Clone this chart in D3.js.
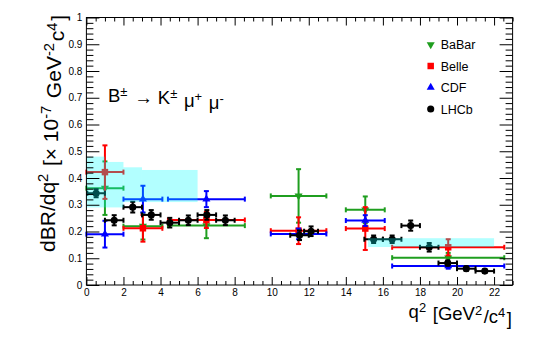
<!DOCTYPE html>
<html lang="en">
<head>
<meta charset="UTF-8">
<title>B to K mu mu differential branching fraction</title>
<style>
  body { margin: 0; background: #fff; }
  svg { display: block; font-family: 'Liberation Sans', Arial, sans-serif; }
  .tick text { font-size: 10px; fill: #000; }
</style>
<script src="https://d3js.org/d3.v7.min.js"></script>
</head>
<body>
<svg id="chart" width="540" height="339"></svg>
<script>
// common binning used for BaBar / Belle / CDF points
var binLo = [0, 2, 4.4, 9.95, 14, 16.5];
var binHi = [2, 4.1, 8.55, 12.95, 16.1, 22.55];

var babarVal = [0.362, 0.220, 0.222, 0.333, 0.281, 0.102];
var babarErr = [0.10, 0.05, 0.047, 0.10, 0.05, 0.018];

var belleVal = [0.422, 0.212, 0.243, 0.203, 0.211, 0.141];
var belleErr = [0.10, 0.05, 0.03, 0.05, 0.08, 0.03];

var cdfVal = [0.190, 0.321, 0.321, 0.191, 0.241, 0.071];
var cdfErr = [0.05, 0.05, 0.03, 0.02, 0.02, 0.01];

// LHCb bins
var lhcbLo = [0.05, 1, 2, 3, 4, 5, 6, 7, 11, 11.75, 15, 16, 17, 18, 19, 20, 21];
var lhcbHi = [1, 2, 3, 4, 5, 6, 7, 8, 12, 12.5, 16, 17, 18, 19, 20, 21, 22];
var lhcbVal = [0.343, 0.242, 0.291, 0.262, 0.233, 0.242, 0.262, 0.242, 0.186, 0.201,
               0.171, 0.171, 0.222, 0.141, 0.082, 0.061, 0.052];
var lhcbErr = [0.015, 0.019, 0.02, 0.018, 0.018, 0.018, 0.018, 0.018, 0.018, 0.018,
               0.014, 0.014, 0.019, 0.016, 0.01, 0.008, 0.007];

// SM prediction band
var bandLo = [0, 1, 2, 3, 15.2];
var bandHi = [1, 2, 3, 6, 22];
var bandMin = [0.29, 0.29, 0.31, 0.31, 0.142];
var bandMax = [0.48, 0.46, 0.44, 0.43, 0.175];

var legendNames = ['BaBar', 'Belle', 'CDF', 'LHCb'];

var svg = d3.select('#chart');
var x = d3.scaleLinear().domain([0, 23]).range([86.4, 512.6]);
var y = d3.scaleLinear().domain([0, 1]).range([285, 17.5]);

var green = '#1f9e1f', red = '#ff0000', blue = '#0000ff', black = '#000000';

function drawSeries(lo, hi, val, err, color, symbol, rot, size) {
    var g = svg.append('g');
    var cap = 2.5;
    val.forEach(function (v, i) {
        var cx = x((lo[i] + hi[i]) / 2), cy = y(v);
        var x0 = x(lo[i]), x1 = x(hi[i]);
        var y0 = y(v - err[i]), y1 = y(v + err[i]);
        var segs = [
            [x0, cy, x1, cy], [x0, cy - cap, x0, cy + cap], [x1, cy - cap, x1, cy + cap],
            [cx, y0, cx, y1], [cx - cap, y0, cx + cap, y0], [cx - cap, y1, cx + cap, y1]
        ];
        segs.forEach(function (s) {
            g.append('line')
                .attr('x1', s[0]).attr('y1', s[1]).attr('x2', s[2]).attr('y2', s[3])
                .attr('stroke', color).attr('stroke-width', 2);
        });
        g.append('path')
            .attr('d', d3.symbol().type(symbol).size(size)())
            .attr('transform', 'translate(' + cx + ',' + cy + ') rotate(' + rot + ')')
            .attr('fill', color);
    });
}

drawSeries(binLo, binHi, babarVal, babarErr, green, d3.symbolTriangle, 180, 28);
drawSeries(binLo, binHi, belleVal, belleErr, red, d3.symbolSquare, 0, 42);
drawSeries(binLo, binHi, cdfVal, cdfErr, blue, d3.symbolTriangle, 0, 28);
drawSeries(lhcbLo, lhcbHi, lhcbVal, lhcbErr, black, d3.symbolCircle, 0, 40);

// theory band drawn on top, semi transparent
svg.append('g').selectAll('rect')
    .data(bandLo)
    .enter()
    .append('rect')
    .attr('x', function (d, i) { return x(d); })
    .attr('width', function (d, i) { return x(bandHi[i]) - x(d); })
    .attr('y', function (d, i) { return y(bandMax[i]); })
    .attr('height', function (d, i) { return y(bandMin[i]) - y(bandMax[i]); })
    .attr('fill', '#00ffff')
    .attr('fill-opacity', 0.3);

// axes (ticks pointing inwards, ROOT style)
function axis(gen, tx, ty) {
    var g = svg.append('g').attr('transform', 'translate(' + tx + ',' + ty + ')').call(gen);
    g.select('.domain').remove();
    return g;
}
var xMinor = d3.range(0, 23.01, 0.5).filter(function (d) { return d % 2 !== 0; });
var yMinor = d3.range(0, 1.001, 0.02).filter(function (d) { return Math.round(d * 100) % 10 !== 0; });
var xMajor = d3.range(0, 23, 2);
var yMajor = d3.range(0, 1.001, 0.1);

axis(d3.axisBottom(x).tickValues(xMajor).tickSize(-8).tickPadding(4), 0, 285);
axis(d3.axisBottom(x).tickValues(xMinor).tickSize(-4).tickFormat(''), 0, 285);
axis(d3.axisTop(x).tickValues(xMajor).tickSize(-8).tickFormat(''), 0, 17.5);
axis(d3.axisTop(x).tickValues(xMinor).tickSize(-4).tickFormat(''), 0, 17.5);
axis(d3.axisLeft(y).tickValues(yMajor).tickSize(-13).tickPadding(4)
    .tickFormat(function (d) { return d3.format('.1~f')(d); }), 86.4, 0);
axis(d3.axisLeft(y).tickValues(yMinor).tickSize(-7).tickFormat(''), 86.4, 0);
axis(d3.axisRight(y).tickValues(yMajor).tickSize(-13).tickFormat(''), 512.6, 0);
axis(d3.axisRight(y).tickValues(yMinor).tickSize(-7).tickFormat(''), 512.6, 0);

svg.append('rect')
    .attr('x', 86.4).attr('y', 17.5)
    .attr('width', 512.6 - 86.4).attr('height', 285 - 17.5)
    .attr('fill', 'none').attr('stroke', '#000').attr('stroke-width', 1);

// text with superscripts: parts are [text, isSup]
function richText(sel, parts) {
    parts.forEach(function (p) {
        if (p[1]) {
            sel.append('tspan').attr('dy', '-0.45em').attr('font-size', '0.7em').text(p[0]);
            sel.append('tspan').attr('dy', '0.45em').text('\u200a');
        } else {
            sel.append('tspan').text(p[0]);
        }
    });
}

var yTitle = svg.append('text')
    .attr('transform', 'translate(55,15) rotate(-90)')
    .attr('text-anchor', 'end')
    .attr('font-size', 21);
richText(yTitle, [['dBR/dq'], ['2', 1], [' [\u00d7 10'], ['-7', 1], [' GeV'], ['-2', 1], ['c'], ['4', 1], [']']]);

var xTitle = svg.append('text')
    .attr('x', 512).attr('y', 318)
    .attr('text-anchor', 'end')
    .attr('font-size', 18.5);
richText(xTitle, [['q'], ['2', 1], [' [GeV'], ['2', 1], ['/c'], ['4', 1], [']']]);

var title = svg.append('text')
    .attr('x', 108).attr('y', 101.7)
    .attr('font-size', 18.5);
richText(title, [['B'], ['\u00b1', 1], [' \u2192 K'], ['\u00b1', 1], [' \u03bc'], ['+', 1], [' \u03bc'], ['-', 1]]);

// legend
var legendColors = [green, red, blue, black];
var legendSymbols = [d3.symbolTriangle, d3.symbolSquare, d3.symbolTriangle, d3.symbolCircle];
var legendRot = [180, 0, 0, 0];
var legendSize = [28, 42, 28, 40];
var legendY = d3.scalePoint().domain(legendNames).range([44.5, 109]);
var leg = svg.append('g');
legendNames.forEach(function (n, i) {
    leg.append('path')
        .attr('d', d3.symbol().type(legendSymbols[i]).size(legendSize[i])())
        .attr('transform', 'translate(430.7,' + legendY(n) + ') rotate(' + legendRot[i] + ')')
        .attr('fill', legendColors[i]);
    leg.append('text')
        .attr('x', 440.7).attr('y', legendY(n)).attr('dy', '0.36em')
        .attr('font-size', 12.5)
        .text(n);
});
</script>
</body>
</html>
